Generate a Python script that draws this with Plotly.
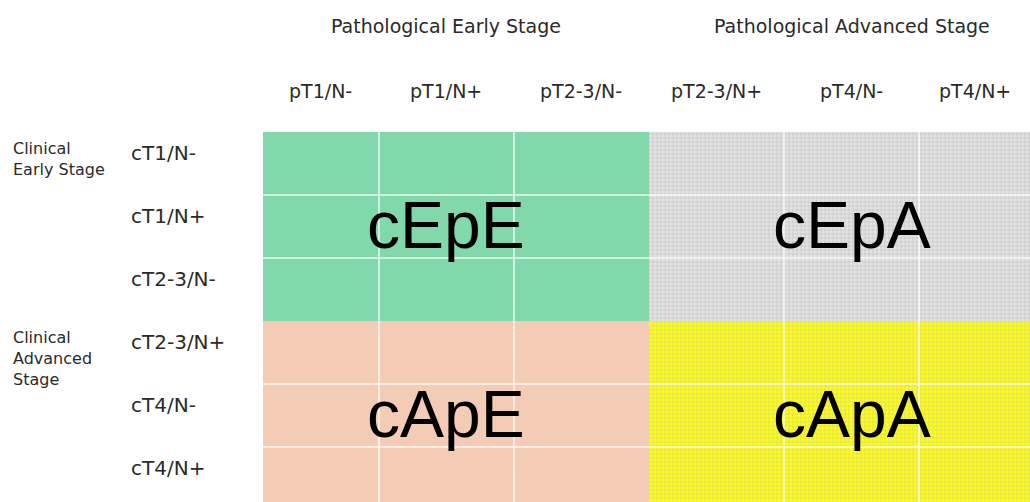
import plotly.graph_objects as go

# ---------------- data ----------------
col_labels = ["pT1/N-", "pT1/N+", "pT2-3/N-", "pT2-3/N+", "pT4/N-", "pT4/N+"]
row_labels = ["cT1/N-", "cT1/N+", "cT2-3/N-", "cT2-3/N+", "cT4/N-", "cT4/N+"]
col_groups = ["Pathological Early Stage", "Pathological Advanced Stage"]
row_groups = ["Clinical<br>Early Stage", "Clinical<br>Advanced<br>Stage"]
quadrant_codes = [["cEpE", "cEpA"], ["cApE", "cApA"]]
group_size = 3

# ---------------- layout constants ----------------
W, H = 1030, 502
L, T = 263, 132
X_RANGE = [-0.359, 5.322]
Y_RANGE = [5.373, -0.5]
LABEL_FONT = "DejaVu Sans, sans-serif"
TEXT_COLOR = "#2a2a2a"

styles = {
    "cEpE": dict(color="#80d8ab"),
    "cEpA": dict(color="#d8d8d8",
                 pattern=dict(shape=".", fgcolor="#bdbdbd", bgcolor="#e4e4e4",
                              size=4, solidity=0.6)),
    "cApE": dict(color="#f4cbb4"),
    "cApA": dict(color="#ffff00",
                 pattern=dict(shape="+", fgcolor="#c4c4b4", bgcolor="#ffff10",
                              size=4, solidity=0.45)),
}

fig = go.Figure()

for gi in range(2):
    for gj in range(2):
        code = quadrant_codes[gi][gj]
        rows = range(gi * group_size, gi * group_size + group_size)
        cols = range(gj * group_size, gj * group_size + group_size)
        xs, bases = [], []
        for r in rows:
            for c in cols:
                xs.append(c)
                bases.append(r - 0.5)
        fig.add_trace(go.Bar(
            x=xs, y=[1] * len(xs), base=bases, width=[1] * len(xs),
            marker=dict(line=dict(width=0), **styles[code]),
            hoverinfo="skip", showlegend=False, name=code,
        ))

# white internal grid lines (not on quadrant boundaries)
n = len(col_labels)
for k in range(n - 1):
    if (k + 1) % group_size == 0:
        continue
    fig.add_shape(type="line", xref="x", yref="y", x0=k + 0.5, x1=k + 0.5,
                  y0=-0.5, y1=len(row_labels) - 0.5,
                  line=dict(color="rgba(255,255,255,0.85)", width=1.5))
for k in range(len(row_labels) - 1):
    if (k + 1) % group_size == 0:
        continue
    fig.add_shape(type="line", xref="x", yref="y", y0=k + 0.5, y1=k + 0.5,
                  x0=-0.5, x1=n - 0.5,
                  line=dict(color="rgba(255,255,255,0.85)", width=1.5))

annotations = []
# big quadrant codes
for gi in range(2):
    for gj in range(2):
        annotations.append(dict(
            x=gj * group_size + 1, y=gi * group_size + 1, xref="x", yref="y",
            text=quadrant_codes[gi][gj], showarrow=False, yshift=2,
            font=dict(family="Liberation Sans, Arial, sans-serif", size=66, color="black"),
        ))

# column labels, centred on visible part of each column
for c, lab in enumerate(col_labels):
    lo = max(c - 0.5, X_RANGE[0])
    hi = min(c + 0.5, X_RANGE[1])
    annotations.append(dict(
        x=(lo + hi) / 2, y=1, xref="x", yref="paper", yanchor="middle",
        yshift=41, text=lab, showarrow=False,
        font=dict(family=LABEL_FONT, size=19, color=TEXT_COLOR),
    ))

# column group headers
for gj, lab in enumerate(col_groups):
    annotations.append(dict(
        x=gj * group_size + 1, y=1, xref="x", yref="paper", yanchor="middle",
        yshift=106, text=lab, showarrow=False,
        font=dict(family=LABEL_FONT, size=19, color=TEXT_COLOR),
    ))

PW = W - L
# row labels
for r, lab in enumerate(row_labels):
    annotations.append(dict(
        x=(129 - L) / PW, y=r, xref="paper", yref="y", xanchor="left",
        yanchor="middle", yshift=11, text=lab, showarrow=False,
        font=dict(family=LABEL_FONT, size=20, color=TEXT_COLOR),
    ))

# row group headers
for gi, lab in enumerate(row_groups):
    annotations.append(dict(
        x=(11 - L) / PW, y=gi * group_size - 0.5, xref="paper", yref="y",
        xanchor="left", yanchor="top", yshift=-5, align="left",
        text=lab, showarrow=False,
        font=dict(family=LABEL_FONT, size=16, color=TEXT_COLOR),
    ))

fig.update_layout(
    width=W, height=H,
    margin=dict(l=L, r=0, t=T, b=0, pad=0),
    paper_bgcolor="white", plot_bgcolor="white",
    barmode="overlay", bargap=0,
    xaxis=dict(visible=False, range=X_RANGE, fixedrange=True),
    yaxis=dict(visible=False, range=Y_RANGE, fixedrange=True),
    annotations=annotations,
    showlegend=False,
)

fig.write_html(
    "out.html",
    config={"displayModeBar": False},
    post_script="document.body.style.margin='0';document.body.style.overflow='hidden';",
)
